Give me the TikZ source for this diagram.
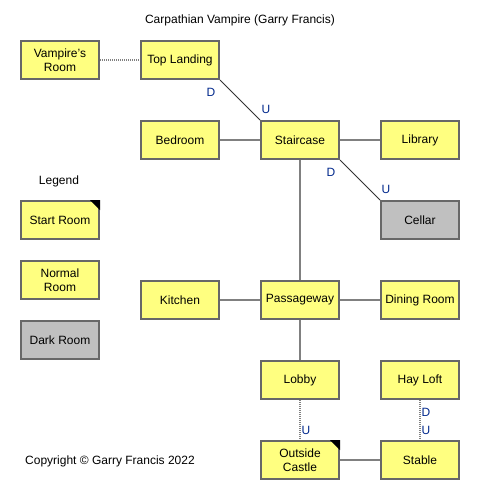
\documentclass[tikz,border=0pt]{standalone}
\usepackage{fontspec}
\setmainfont{Liberation Sans}
\definecolor{roomyellow}{RGB}{255,255,128}
\definecolor{darkfill}{RGB}{192,192,192}
\definecolor{bordergray}{RGB}{104,104,104}
\definecolor{conngray}{RGB}{128,128,128}
\definecolor{labelblue}{RGB}{0,40,140}
\begin{document}
\begin{tikzpicture}[x=0.75pt,y=-0.75pt,
  every node/.style={font=\fontsize{9pt}{10.5pt}\selectfont},
  room/.style={draw=bordergray,line width=1.5pt,fill=roomyellow,minimum width=58.5pt,minimum height=28.5pt,inner sep=0pt,align=center},
  dark/.style={room,fill=darkfill},
  conn/.style={draw=conngray,line width=1.5pt},
  thinconn/.style={draw=black!80,line width=0.6pt},
  dotconn/.style={draw=conngray,line width=1.3pt,dash pattern=on 0.75pt off 0.75pt},
  lbl/.style={text=labelblue,inner sep=0pt},
  txt/.style={inner sep=0pt}
]
\useasboundingbox[fill=white] (0,0) rectangle (480,500);
% title etc
\node[txt] (title) at (240,20) {Carpathian Vampire (Garry Francis)};
\node[txt] (legend) at (59,181) {Legend};
\node[txt] (copy) at (110,461) {Copyright © Garry Francis 2022};
% rooms
\node[room] (vr) at (60,60) {Vampire's\\Room};
\node[room] (tl) at (180,60) {Top Landing};
\node[room] (bed) at (180,140) {Bedroom};
\node[room] (stair) at (300,140) {Staircase};
\node[room] (lib) at (420,140) {Library};
\node[dark] (cellar) at (420,220) {Cellar};
\node[room] (legstart) at (60,220) {Start Room};
\node[room] (legnormal) at (60,280) {Normal\\Room};
\node[dark] (legdark) at (60,340) {Dark Room};
\node[room] (kitchen) at (180,300) {Kitchen};
\node[room] (pass) at (300,300) {Passageway};
\node[room] (dining) at (420,300) {Dining Room};
\node[room] (lobby) at (300,380) {Lobby};
\node[room] (hay) at (420,380) {Hay Loft};
\node[room] (outside) at (300,460) {Outside\\Castle};
\node[room] (stable) at (420,460) {Stable};
% start markers
\fill (legstart.north east) ++(-10,0) coordinate (a1) -- (legstart.north east) -- ++(0,10) -- cycle;
\fill (outside.north east) ++(-10,0) coordinate (a2) -- (outside.north east) -- ++(0,10) -- cycle;
% connectors
\draw[dotconn] (vr.east) -- (tl.west);
\draw[thinconn] (tl.south east) -- (stair.north west);
\draw[conn] (bed.east) -- (stair.west);
\draw[conn] (stair.east) -- (lib.west);
\draw[thinconn] (stair.south east) -- (cellar.north west);
\draw[conn] (stair.south) -- (pass.north);
\draw[conn] (kitchen.east) -- (pass.west);
\draw[conn] (pass.east) -- (dining.west);
\draw[conn] (pass.south) -- (lobby.north);
\draw[dotconn] (lobby.south) -- (outside.north);
\draw[dotconn] (hay.south) -- (stable.north);
\draw[conn] (outside.east) -- (stable.west);
% labels
\node[lbl] (l1) at (211,92) {D};
\node[lbl] (l2) at (266,109) {U};
\node[lbl] (l3) at (331,172) {D};
\node[lbl] (l4) at (386,189) {U};
\node[lbl] (l5) at (306,430) {U};
\node[lbl] (l6) at (426,412) {D};
\node[lbl] (l7) at (426,430) {U};
\end{tikzpicture}
\end{document}
